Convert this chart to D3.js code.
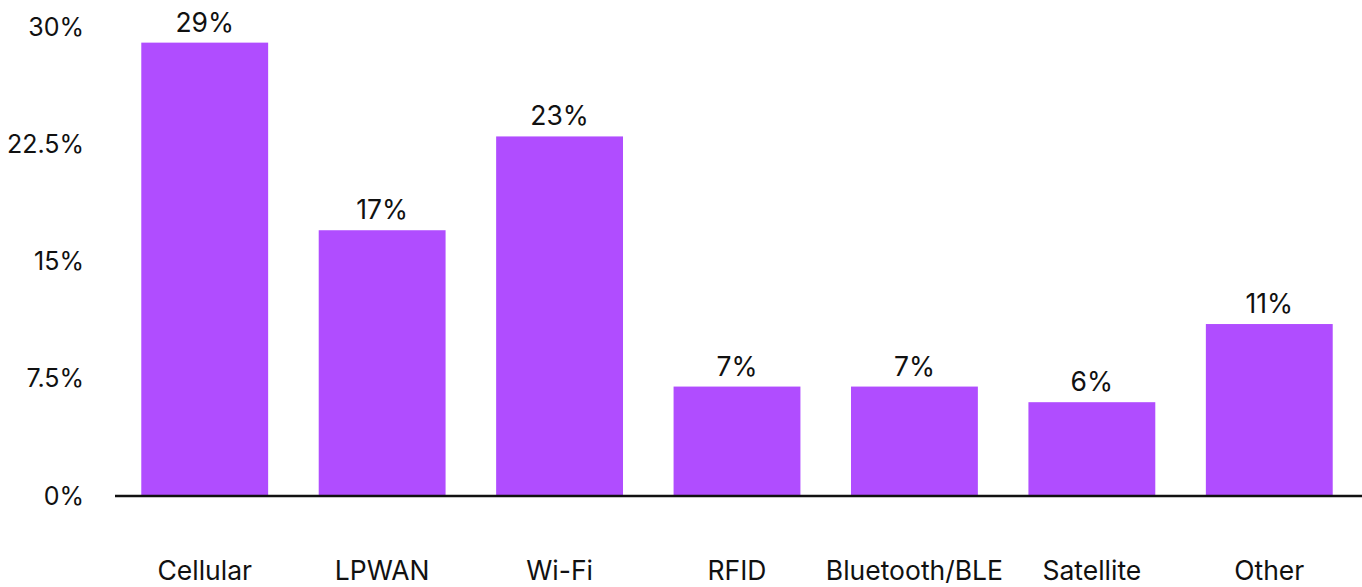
<!DOCTYPE html>
<html>
<head>
<meta charset="utf-8">
<script src="https://cdn.jsdelivr.net/npm/d3@7"></script>
<style>
  body { margin: 0; background: #fff; }
  text { font-family: Inter, "Noto Sans", sans-serif; fill: #111; }
</style>
</head>
<body>
<div id="chart"></div>
<script>
var categories = ["Cellular", "LPWAN", "Wi-Fi", "RFID", "Bluetooth/BLE", "Satellite", "Other"];
var shares = [29, 17, 23, 7, 7, 6, 11];
var yTicks = [0, 7.5, 15, 22.5, 30];

var width = 1362, height = 587;

var svg = d3.select("#chart").append("svg")
    .attr("width", width)
    .attr("height", height);

var x = d3.scaleBand()
    .domain(categories)
    .range([116, 1358])
    .paddingInner(0.285)
    .paddingOuter(0.1425);

var y = d3.scaleLinear()
    .domain([0, 30])
    .range([496, 27]);

var data = categories.map(function(c, i) { return {name: c, value: shares[i]}; });

// y axis labels, no line
svg.append("g")
    .attr("transform", "translate(84,0)")
    .style("font-size", "25px")
    .call(d3.axisLeft(y).tickValues(yTicks).tickSize(0).tickPadding(0)
      .tickFormat(function(d) { return d + "%"; }))
    .call(function(g) { g.select(".domain").remove(); })
    .selectAll("text")
      .attr("fill", "#111")
      .style("font-family", "Inter");

svg.selectAll(".bar")
    .data(data)
  .enter().append("rect")
    .attr("class", "bar")
    .attr("x", function(d) { return x(d.name); })
    .attr("y", function(d) { return y(d.value); })
    .attr("width", x.bandwidth())
    .attr("height", function(d) { return y(0) - y(d.value); })
    .attr("fill", "#b04dff");

svg.selectAll(".val")
    .data(data)
  .enter().append("text")
    .attr("class", "val")
    .attr("x", function(d) { return x(d.name) + x.bandwidth() / 2; })
    .attr("y", function(d) { return y(d.value) - 11; })
    .attr("text-anchor", "middle")
    .style("font-size", "26.5px")
    .text(function(d) { return d.value + "%"; });

// baseline + category labels
var xAxis = svg.append("g")
    .attr("transform", "translate(0," + y(0) + ")")
    .style("font-size", "26.5px")
    .call(d3.axisBottom(x).tickSize(0).tickPadding(0));

xAxis.select(".domain")
    .attr("d", "M115,0H1362")
    .attr("stroke", "#111")
    .attr("stroke-width", 2.5);

xAxis.selectAll("text")
    .attr("dy", null)
    .attr("y", 84)
    .attr("fill", "#111")
    .style("font-family", "Inter");
</script>
</body>
</html>
